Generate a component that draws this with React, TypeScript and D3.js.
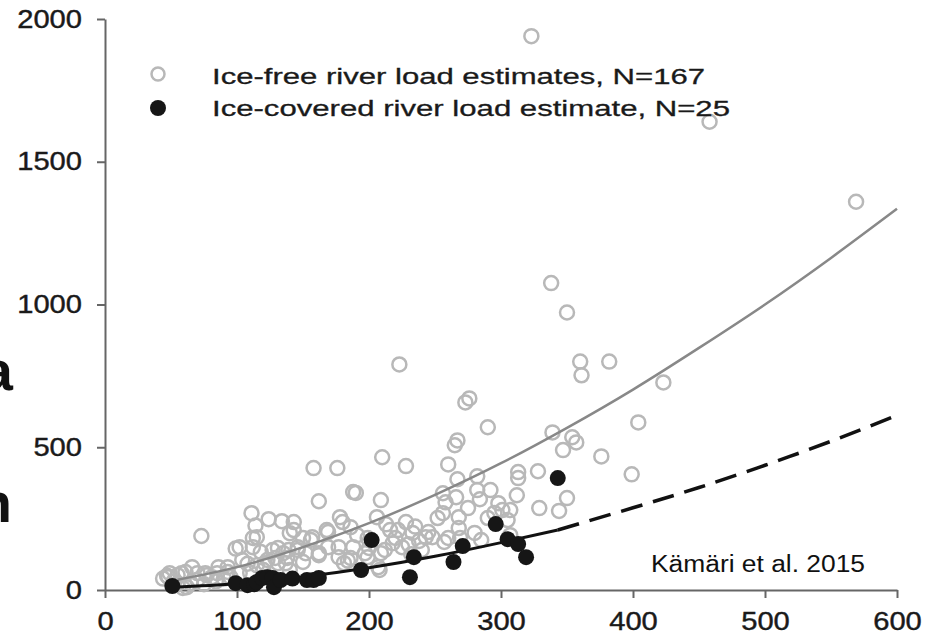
import React, { useEffect, useRef } from 'react';
import * as d3 from 'd3';

// axis ticks
const xTicks = [0, 100, 200, 300, 400, 500, 600];
const yTicks = [0, 500, 1000, 1500, 2000];

// ice-free river load estimates (open circles), N=167
const iceFreePoints: [number, number][] = [
  [323, 1940], [458, 1640], [569, 1360], [338, 1075], [350, 972], [223, 790], [360, 800], [382, 800],
  [361, 752], [423, 727], [276, 671], [273, 657], [404, 587], [290, 570], [339, 552], [354, 535],
  [267, 524], [357, 517], [265, 507], [347, 490], [376, 468], [210, 465], [260, 440], [228, 434],
  [158, 427], [176, 427], [328, 416], [313, 413], [399, 405], [282, 398], [313, 392], [267, 388],
  [292, 350], [282, 350], [188, 343], [190, 340], [256, 339], [312, 332], [266, 325], [350, 322],
  [284, 318], [209, 315], [162, 311], [258, 307], [298, 304], [329, 287], [275, 287], [301, 280],
  [307, 280], [344, 277], [256, 269], [111, 269], [178, 255], [206, 255], [268, 255], [290, 252],
  [252, 252], [124, 248], [305, 245], [134, 241], [143, 238], [180, 238], [114, 226], [235, 222],
  [186, 220], [268, 217], [222, 210], [216, 210], [143, 210], [168, 210], [169, 203], [245, 203],
  [140, 199], [307, 192], [191, 192], [73, 189], [115, 185], [157, 185], [248, 185], [243, 185],
  [112, 182], [150, 182], [199, 182], [220, 182], [260, 182], [156, 175], [257, 168], [218, 164],
  [225, 150], [200, 147], [188, 150], [169, 150], [177, 150], [146, 150], [112, 150], [102, 150],
  [99, 145], [131, 147], [127, 140], [139, 140], [146, 140], [118, 133], [135, 129], [152, 129],
  [162, 129], [197, 129], [209, 129], [162, 122], [199, 115], [177, 115], [129, 112], [138, 112],
  [186, 112], [184, 103], [104, 105], [123, 105], [150, 98], [121, 94], [131, 94], [137, 94],
  [181, 94], [108, 92], [115, 87], [66, 80], [86, 80], [93, 80], [207, 80], [208, 70],
  [61, 63], [93, 63], [49, 59], [58, 59], [70, 59], [76, 59], [85, 59], [102, 59],
  [55, 52], [77, 52], [47, 50], [48, 45], [81, 45], [95, 45], [44, 40], [65, 24],
  [62, 10], [59, 7], [213, 230], [228, 238], [233, 200], [238, 172], [230, 160], [240, 140],
  [269, 182], [280, 200], [285, 175], [295, 270], [212, 140], [232, 125], [52, 30], [70, 35],
  [84, 30], [55, 22], [75, 20], [90, 40], [110, 60], [120, 70], [140, 70],
];

// ice-covered river load estimates (filled circles), N=25
const iceCoveredPoints: [number, number][] = [
  [51, 14], [99, 24], [108, 17], [113, 20], [115, 28], [119, 42], [123, 45], [127, 42],
  [128, 10], [133, 35], [142, 40], [153, 35], [158, 35], [162, 42], [194, 70], [202, 175],
  [231, 45], [234, 115], [264, 98], [271, 154], [296, 231], [305, 178], [313, 161], [319, 115],
  [343, 392],
];

// fitted curves
const freeFitX = [55, 100, 150, 200, 250, 300, 350, 400, 450, 500, 550, 600];
const freeFitY = [36, 80, 150, 234, 333, 444, 568, 702, 848, 1000, 1163, 1335];
const coveredFitX = [51, 100, 150, 200, 250, 300, 343];
const coveredFitY = [10, 22, 46, 78, 118, 166, 210];
const coveredExtX = [343, 400, 450, 500, 550, 600];
const coveredExtY = [210, 288, 359, 437, 521, 612];

const legendLabels = ['Ice-free river load estimates, N=167', 'Ice-covered river load estimate, N=25'];
const sourceNote = 'Kämäri et al. 2015';

const font = '"Liberation Sans", Arial, sans-serif';

const App = () => {
  const ref = useRef<SVGSVGElement>(null);

  const graph = () => {
    const svg = d3.select(ref.current);
    svg.selectAll('*').remove();

    const x = d3.scaleLinear().domain([0, 600]).range([105, 897]);
    const y = d3.scaleLinear().domain([0, 2000]).range([590, 19]);

    // cut-off text from the slide on the left (cropped in the original too)
    svg.append('text').attr('x', 13).attr('y', 390).attr('text-anchor', 'end')
      .style('font-family', font).style('font-weight', '700').style('font-size', '56px')
      .style('fill', '#111').text('a');
    svg.append('text').attr('x', 12).attr('y', 522).attr('text-anchor', 'end')
      .style('font-family', font).style('font-weight', '700').style('font-size', '56px')
      .style('fill', '#111').text('n');

    const xAxis = svg.append('g')
      .attr('transform', `translate(0, ${y(0)})`)
      .call(d3.axisBottom(x).tickValues(xTicks).tickSize(8).tickSizeOuter(0).tickPadding(14).tickFormat(d3.format('d')));
    const yAxis = svg.append('g')
      .attr('transform', `translate(${x(0)}, 0)`)
      .call(d3.axisLeft(y).tickValues(yTicks).tickSize(8).tickSizeOuter(0).tickPadding(15).tickFormat(d3.format('d')));

    [xAxis, yAxis].forEach(ax => {
      ax.selectAll('.domain, line').style('stroke', '#666').style('stroke-width', 2);
      ax.selectAll('text')
        .style('font-family', font).style('font-size', '25px').style('fill', '#1a1a1a')
        .style('stroke', '#1a1a1a').style('stroke-width', 0.4)
        .attr('textLength', function () { return (d3.select(this).text().length) * 16.2; })
        .attr('lengthAdjust', 'spacingAndGlyphs');
    });

    // open circles
    svg.append('g').selectAll('circle')
      .data(iceFreePoints).enter().append('circle')
      .attr('cx', d => x(d[0])).attr('cy', d => y(d[1])).attr('r', 7)
      .style('fill', 'none').style('stroke', '#b8b8b8').style('stroke-width', 2.5);

    const line = d3.line<number>().curve(d3.curveNatural);

    svg.append('path')
      .attr('d', line.x(d => x(d)).y((d, i) => y(freeFitY[i]))(freeFitX))
      .style('fill', 'none').style('stroke', '#888').style('stroke-width', 2.5);

    svg.append('path')
      .attr('d', line.x(d => x(d)).y((d, i) => y(coveredFitY[i]))(coveredFitX))
      .style('fill', 'none').style('stroke', '#111').style('stroke-width', 3);

    svg.append('path')
      .attr('d', line.x(d => x(d)).y((d, i) => y(coveredExtY[i]))(coveredExtX))
      .style('fill', 'none').style('stroke', '#111').style('stroke-width', 3.5)
      .style('stroke-dasharray', '22,11');

    svg.append('g').selectAll('circle')
      .data(iceCoveredPoints).enter().append('circle')
      .attr('cx', d => x(d[0])).attr('cy', d => y(d[1])).attr('r', 8)
      .style('fill', '#161616');

    // legend
    svg.append('circle').attr('cx', 158).attr('cy', 74).attr('r', 6.5)
      .style('fill', 'none').style('stroke', '#b8b8b8').style('stroke-width', 2.5);
    svg.append('circle').attr('cx', 158).attr('cy', 108).attr('r', 8).style('fill', '#161616');
    svg.selectAll('text.legend')
      .data(legendLabels).enter().append('text').attr('class', 'legend')
      .attr('x', 212).attr('y', (d, i) => 84 + i * 32)
      .attr('textLength', (d, i) => (i === 0 ? 493 : 518)).attr('lengthAdjust', 'spacingAndGlyphs')
      .style('font-family', font).style('font-size', '22px').style('fill', '#1a1a1a')
      .style('stroke', '#1a1a1a').style('stroke-width', 0.3)
      .text(d => d);

    svg.append('text').attr('x', 651).attr('y', 572)
      .attr('textLength', 214).attr('lengthAdjust', 'spacingAndGlyphs')
      .style('font-family', font).style('font-size', '23px').style('fill', '#111')
      .text(sourceNote);
  };

  useEffect(() => graph());

  return (
    <svg ref={ref} width="926" height="638"
      style={{ position: 'absolute', left: 0, top: 0, background: '#fff' }}></svg>
  );
};

export default App;
